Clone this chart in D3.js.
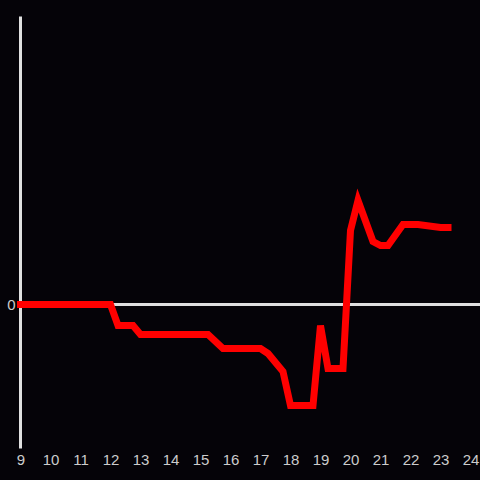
<!DOCTYPE html>
<html><head><meta charset="utf-8">
<script src="https://cdn.jsdelivr.net/npm/d3@7"></script>
<style>html,body{margin:0;padding:0;background:#050308;}svg{display:block;}</style>
</head><body>
<svg id="c" width="480" height="480"></svg>
<script>
const hours = [9.0, 12.0, 12.25, 12.75, 13.0, 15.25, 15.75, 17.0, 17.25, 17.75, 18.0, 18.75, 19.0, 19.25, 19.75, 20.0, 20.25, 20.75, 21.0, 21.25, 21.75, 22.25, 23.0, 23.25];
const values = [0, 0, -21, -21, -30, -30, -44, -44, -49, -67, -101, -101, -21, -64, -64, 74, 104, 63, 59, 59, 80, 80, 77, 77];
const xTicks = [9,10,11,12,13,14,15,16,17,18,19,20,21,22,23,24];
const yTicks = [0];

const svg = d3.select("#c");
svg.append("rect").attr("width",480).attr("height",480).attr("fill","#050308");
const x = d3.scaleLinear().domain([9,24]).range([20.5,470.5]);
const y = d3.scaleLinear().domain([-144,288]).range([448.5,16.5]);

// y axis line
svg.append("line").attr("x1",x(9)).attr("x2",x(9)).attr("y1",y(288)).attr("y2",y(-144))
  .attr("stroke","#e0e0e0").attr("stroke-width",3);
// zero line
svg.append("line").attr("x1",x(9)).attr("x2",480).attr("y1",y(0)).attr("y2",y(0))
  .attr("stroke","#e0e0e0").attr("stroke-width",3);

const xAxis = svg.append("g").attr("transform",`translate(0,${y(-144)})`)
  .call(d3.axisBottom(x).tickValues(xTicks).tickFormat(d3.format("d")).tickSize(0).tickPadding(6));
xAxis.select(".domain").remove();
xAxis.selectAll("text").attr("fill","#cccccc").attr("font-size",15).attr("font-family","'Liberation Sans', Arial, sans-serif");

const yAxis = svg.append("g").attr("transform",`translate(${x(9)-2},0)`)
  .call(d3.axisLeft(y).tickValues(yTicks).tickFormat(d3.format("d")).tickSize(0).tickPadding(3));
yAxis.select(".domain").remove();
yAxis.selectAll("text").attr("fill","#cccccc").attr("font-size",15).attr("font-family","'Liberation Sans', Arial, sans-serif");

const line = d3.line().x((d,i)=>x(hours[i])).y(d=>y(d));
svg.append("path").datum(values).attr("d",line)
  .attr("fill","none").attr("stroke","#ff0000").attr("stroke-width",7)
  .attr("stroke-linecap","square").attr("stroke-linejoin","miter");
</script>
</body></html>
